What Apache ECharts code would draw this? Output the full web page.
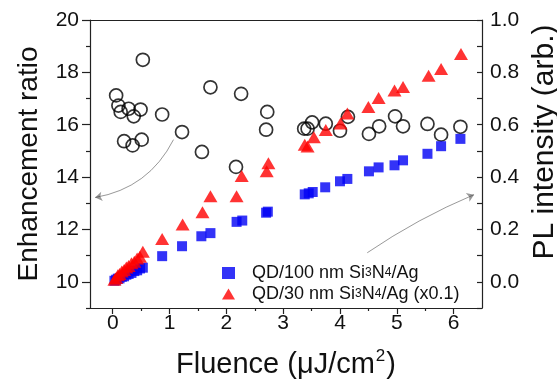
<!DOCTYPE html>
<html>
<head>
<meta charset="utf-8">
<script src="https://cdn.jsdelivr.net/npm/echarts@6/dist/echarts.min.js"></script>
<style>
  html, body { margin: 0; padding: 0; background: #fff; }
  #chart { width: 557px; height: 382px; }
</style>
</head>
<body>
<div id="chart"></div>
<script>
// enhancement ratio (open circles, left axis)
const ratioX = [0.06, 0.10, 0.14, 0.20, 0.28, 0.35, 0.37, 0.49, 0.51, 0.53, 0.87, 1.22, 1.57, 1.72, 2.17, 2.26, 2.70, 2.72,
  3.37, 3.43, 3.51, 3.75, 4.00, 4.14, 4.51, 4.69, 4.97, 5.11, 5.54, 5.78, 6.12];
const ratioY = [17.12, 16.73, 16.49, 15.37, 16.61, 15.21, 16.32, 16.58, 15.43, 18.48, 16.39, 15.72, 14.96, 17.43, 14.39, 17.18, 15.81, 16.49,
  15.85, 15.85, 16.09, 16.04, 15.77, 16.30, 15.65, 15.94, 16.32, 15.94, 16.03, 15.62, 15.92];

// PL intensity, QD/100 nm Si3N4/Ag (blue squares, right axis)
const pl100X = [0.03, 0.06, 0.09, 0.12, 0.16, 0.20, 0.24, 0.28, 0.33, 0.38, 0.43, 0.48, 0.53,
  0.87, 1.22, 1.56, 1.72, 2.18, 2.28, 2.70, 2.73, 3.38, 3.45, 3.52, 3.74, 4.00, 4.13, 4.51, 4.68, 4.96, 5.11, 5.54, 5.78, 6.12];
const pl100Y = [0.004, 0.008, 0.012, 0.013, 0.019, 0.021, 0.027, 0.030, 0.034, 0.041, 0.044, 0.051, 0.054,
  0.098, 0.136, 0.174, 0.186, 0.229, 0.234, 0.264, 0.268, 0.334, 0.338, 0.343, 0.361, 0.384, 0.393, 0.422, 0.437, 0.445, 0.464, 0.489, 0.518, 0.546];

// PL intensity, QD/30 nm Si3N4/Ag x0.1 (red triangles, right axis)
const pl30X = [0.03, 0.06, 0.09, 0.12, 0.16, 0.20, 0.24, 0.28, 0.33, 0.38, 0.43, 0.48, 0.53,
  0.87, 1.23, 1.58, 1.72, 2.18, 2.27, 2.71, 2.74, 3.38, 3.43, 3.54, 3.75, 4.01, 4.13, 4.50, 4.68, 4.96, 5.11, 5.56, 5.78, 6.13];
const pl30Y = [0.008, 0.015, 0.025, 0.030, 0.039, 0.045, 0.055, 0.060, 0.071, 0.077, 0.089, 0.096, 0.115,
  0.164, 0.219, 0.266, 0.327, 0.327, 0.404, 0.422, 0.453, 0.524, 0.517, 0.552, 0.580, 0.605, 0.643, 0.668, 0.702, 0.731, 0.744, 0.787, 0.813, 0.870];

// tick positions
const xLabels = [0, 1, 2, 3, 4, 5, 6];
const xMinor = [0.5, 1.5, 2.5, 3.5, 4.5, 5.5];
const leftLabels = [10, 12, 14, 16, 18, 20];
const leftMinor = [9, 11, 13, 15, 17, 19];
const rightLabels = [0, 0.2, 0.4, 0.6, 0.8, 1.0];
const rightTicks = [-0.1, 0, 0.1, 0.2, 0.3, 0.4, 0.5, 0.6, 0.7, 0.8, 0.9, 1.0];

// annotation arrows (data coordinates)
const arrowRatio = [[1.07, 15.43], [-0.31, 13.22]];
const arrowPL = [[4.48, 0.111], [6.36, 0.333]];

const names = ["QD/100 nm Si3N4/Ag", "QD/30 nm Si3N4/Ag (x0.1)"];

const font = "'Liberation Sans', Arial, sans-serif";
const axisColor = "#222";

const zip = (xs, ys) => xs.map((x, i) => [x, ys[i]]);

const chart = echarts.init(document.getElementById("chart"), null, { renderer: "canvas" });

const subRich = {
  p: { fontSize: 18, fontFamily: font, color: "#111", padding: [0, 0, 0, 12] },
  a: { fontSize: 18, fontFamily: font, color: "#111" },
  s: { fontSize: 12, fontFamily: font, color: "#111" },
};

chart.setOption({
  animation: false,
  grid: { left: 90, right: 75, top: 20, bottom: 74, containLabel: false, outerBoundsMode: "none" },
  legend: {
    data: [
      { name: names[0], icon: "rect" },
      { name: names[1], icon: "path://M0,12 L7,0 L14,12 Z" },
    ],
    orient: "vertical",
    left: 217,
    top: 259,
    itemWidth: 13,
    itemHeight: 12,
    itemGap: 3,
    formatter: (n) =>
      n === names[0]
        ? "{p|QD/100 nm Si}{s|3}{a|N}{s|4}{a|/Ag}"
        : "{p|QD/30 nm Si}{s|3}{a|N}{s|4}{a|/Ag (x0.1)}",
    textStyle: { rich: subRich },
  },
  xAxis: [
    {
      type: "value", min: -0.4, max: 6.5, position: "bottom",
      name: "{a|Fluence (μJ/cm}{sup|2}{a|)}",
      nameLocation: "middle", nameGap: 40,
      nameTextStyle: {
        rich: {
          a: { fontSize: 29, fontFamily: font, color: "#111" },
          sup: { fontSize: 17, fontFamily: font, color: "#111", verticalAlign: "top", padding: [0, 1, 16, 1] },
        },
      },
      splitLine: { show: false },
      axisLine: { show: true, onZero: false, lineStyle: { color: axisColor, width: 1.2 } },
      axisTick: { show: true, customValues: xLabels, length: 6, lineStyle: { color: axisColor, width: 1.2 } },
      axisLabel: { customValues: xLabels, fontSize: 21, fontFamily: font, color: "#111", margin: 5 },
    },
    {
      type: "value", min: -0.4, max: 6.5, position: "bottom",
      splitLine: { show: false },
      axisLine: { show: false, onZero: false },
      axisTick: { show: true, customValues: xMinor, length: 3, lineStyle: { color: axisColor, width: 1.2 } },
      axisLabel: { show: false },
    },
    {
      type: "value", min: -0.4, max: 6.5, position: "top",
      splitLine: { show: false },
      axisLine: { show: true, onZero: false, lineStyle: { color: axisColor, width: 1.2 } },
      axisTick: { show: false },
      axisLabel: { show: false },
    },
  ],
  yAxis: [
    {
      type: "value", min: 9, max: 20, position: "left",
      name: "Enhancement ratio", nameLocation: "middle", nameRotate: 90, nameGap: 47,
      nameTextStyle: { fontSize: 28, fontFamily: font, color: "#111" },
      splitLine: { show: false },
      axisLine: { show: true, onZero: false, lineStyle: { color: axisColor, width: 1.2 } },
      axisTick: { show: true, customValues: leftLabels, length: 8, lineStyle: { color: axisColor, width: 1.2 } },
      axisLabel: { customValues: leftLabels, fontSize: 21, fontFamily: font, color: "#111", margin: 11 },
    },
    {
      type: "value", min: 9, max: 20, position: "left",
      splitLine: { show: false },
      axisLine: { show: false, onZero: false },
      axisTick: { show: true, customValues: leftMinor, length: 4, lineStyle: { color: axisColor, width: 1.2 } },
      axisLabel: { show: false },
    },
    {
      type: "value", min: -0.1, max: 1.0, position: "right",
      name: "PL intensity (arb.)", nameLocation: "middle", nameRotate: 90, nameGap: 39,
      nameTextStyle: { fontSize: 30, fontFamily: font, color: "#111", padding: [0, 0, 0, 44] },
      splitLine: { show: false },
      axisLine: { show: true, onZero: false, lineStyle: { color: axisColor, width: 1.2 } },
      axisTick: { show: true, inside: true, customValues: rightTicks, length: 5, lineStyle: { color: axisColor, width: 1.2 } },
      axisLabel: {
        customValues: rightLabels, fontSize: 21, fontFamily: font, color: "#111", margin: 8,
        formatter: (v) => v.toFixed(1),
      },
    },
  ],
  series: [
    {
      name: "Enhancement ratio",
      type: "scatter",
      xAxisIndex: 0, yAxisIndex: 0,
      symbol: "circle",
      symbolSize: 13,
      itemStyle: { color: "rgba(0,0,0,0)", borderColor: "#000", borderWidth: 1.7 },
      data: zip(ratioX, ratioY),
    },
    {
      name: names[0],
      type: "scatter",
      xAxisIndex: 0, yAxisIndex: 2,
      symbol: "rect",
      symbolSize: 10,
      itemStyle: { color: "#0000f5" },
      data: zip(pl100X, pl100Y),
    },
    {
      name: names[1],
      type: "scatter",
      xAxisIndex: 0, yAxisIndex: 2,
      symbol: "triangle",
      symbolSize: [14, 12],
      itemStyle: { color: "#ff0000" },
      data: zip(pl30X, pl30Y),
    },
    {
      type: "lines",
      coordinateSystem: "cartesian2d",
      xAxisIndex: 0, yAxisIndex: 0,
      symbol: ["none", "arrow"],
      symbolSize: 7,
      lineStyle: { color: "#333", width: 1, curveness: 0.25 },
      data: [{ coords: arrowRatio }],
    },
    {
      type: "lines",
      coordinateSystem: "cartesian2d",
      xAxisIndex: 0, yAxisIndex: 2,
      symbol: ["none", "arrow"],
      symbolSize: 7,
      lineStyle: { color: "#333", width: 1, curveness: 0.05 },
      data: [{ coords: arrowPL }],
    },
  ],
});

window.addEventListener("resize", () => chart.resize());
</script>
</body>
</html>
